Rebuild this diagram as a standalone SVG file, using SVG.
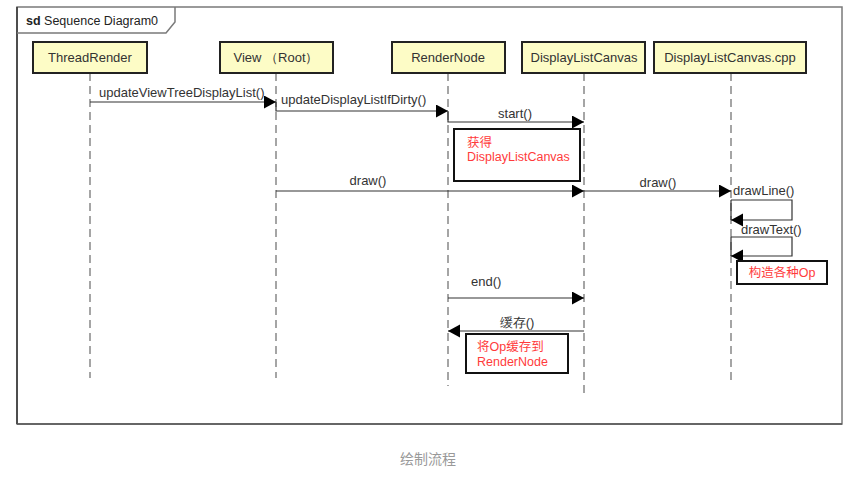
<svg xmlns="http://www.w3.org/2000/svg" width="853" height="482" viewBox="0 0 853 482">
<style>
.frame{fill:none;stroke:#7a7a7a;stroke-width:1.5}
.head{fill:#fdfcc6;stroke:#222;stroke-width:2}
.htxt{font-family:"Liberation Sans",Arial,sans-serif;font-size:13px;fill:#333;text-anchor:middle}
.life{stroke:#888;stroke-width:1.5;stroke-dasharray:8,5;fill:none}
.msg{stroke:#333;stroke-width:1.2;fill:none}
.mtxt{font-family:"Liberation Sans",Arial,sans-serif;font-size:13px;fill:#333}
.note{fill:#fff;stroke:#111;stroke-width:2}
.ntxt{font-family:"Liberation Sans","Noto Sans CJK SC",sans-serif;font-size:12.5px;fill:#ff3b3b}
.cap{font-family:"Liberation Sans","Noto Sans CJK SC",sans-serif;font-size:14px;fill:#999;text-anchor:middle}
</style>
<defs>
<marker id="arr" markerUnits="userSpaceOnUse" markerWidth="13" markerHeight="14" refX="12" refY="6.5" orient="auto">
<path d="M0,0 L12,6.5 L0,13 z" fill="#000"/>
</marker>
</defs>
<rect width="853" height="482" fill="#fff"/>
<g id="frame">
<rect class="frame" x="17" y="7" width="825" height="417"/>
<line x1="17" y1="7" x2="17" y2="424" stroke="#333" stroke-width="1.5"/>
<line x1="17" y1="424" x2="842" y2="424" stroke="#555" stroke-width="1.5"/>
<path class="frame" d="M17,33 H166 L175,22 V7"/>
<text x="26" y="25" font-family="'Liberation Sans',Arial,sans-serif" font-size="12.5" fill="#222"><tspan font-weight="bold">sd</tspan> Sequence Diagram0</text>
</g>
<g id="lifelines">
<line class="life" x1="90" y1="73" x2="90" y2="378"/>
<line class="life" x1="276" y1="73" x2="276" y2="378"/>
<line class="life" x1="448" y1="73" x2="448" y2="386"/>
<line class="life" x1="584" y1="73" x2="584" y2="393"/>
<line class="life" x1="731" y1="73" x2="731" y2="380"/>
</g>
<g id="n-threadrender"><rect class="head" x="33" y="42" width="114" height="31"/><text class="htxt" x="90" y="62">ThreadRender</text></g>
<g id="n-view"><rect class="head" x="220" y="42" width="113" height="31"/><text class="htxt" x="276" y="62">View （Root）</text></g>
<g id="n-rendernode"><rect class="head" x="392" y="42" width="113" height="31"/><text class="htxt" x="448" y="62">RenderNode</text></g>
<g id="n-dlc"><rect class="head" x="522" y="42" width="123" height="31"/><text class="htxt" x="584" y="62">DisplayListCanvas</text></g>
<g id="n-dlccpp"><rect class="head" x="654" y="42" width="152" height="31"/><text class="htxt" x="730" y="62">DisplayListCanvas.cpp</text></g>
<g id="connectors">
<path class="msg" d="M90,102 H276" marker-end="url(#arr)"/>
<text class="mtxt" x="99" y="97">updateViewTreeDisplayList()</text>
<path class="msg" d="M276,102 V111 H448" marker-end="url(#arr)"/>
<text class="mtxt" x="281" y="104">updateDisplayListIfDirty()</text>
<path class="msg" d="M448,111 V122 H584" marker-end="url(#arr)"/>
<text class="mtxt" x="515" y="118" text-anchor="middle">start()</text>
<path class="msg" d="M276,191 H584" marker-end="url(#arr)"/>
<text class="mtxt" x="368" y="185" text-anchor="middle">draw()</text>
<path class="msg" d="M584,191 H731" marker-end="url(#arr)"/>
<text class="mtxt" x="658" y="187" text-anchor="middle">draw()</text>
<text class="mtxt" x="733" y="195">drawLine()</text>
<line class="msg" x1="731" y1="200" x2="731" y2="220"/>
<path class="msg" d="M731,200 H792 V220 H731" marker-end="url(#arr)"/>
<text class="mtxt" x="741" y="234">drawText()</text>
<line class="msg" x1="731" y1="237" x2="731" y2="256"/>
<path class="msg" d="M731,237 H792 V256 H731" marker-end="url(#arr)"/>
<path class="msg" d="M448,298 H584" marker-end="url(#arr)"/>
<text class="mtxt" x="471" y="286">end()</text>
<path class="msg" d="M584,331 H448" marker-end="url(#arr)"/>
<text class="mtxt" x="517" y="327" text-anchor="middle" font-family="'Liberation Sans','Noto Sans CJK SC',sans-serif">缓存()</text>
</g>
<g id="note-get">
<rect class="note" x="454" y="129" width="126" height="52"/>
<text class="ntxt" x="467" y="147">获得</text>
<text class="ntxt" x="467" y="161">DisplayListCanvas</text>
</g>
<g id="note-ops">
<rect class="note" x="737" y="261" width="90" height="23"/>
<text class="ntxt" x="782" y="277" text-anchor="middle">构造各种Op</text>
</g>
<g id="note-cache">
<rect class="note" x="466" y="334" width="102" height="39"/>
<text class="ntxt" x="477" y="351">将Op缓存到</text>
<text class="ntxt" x="477" y="366">RenderNode</text>
</g>
<text class="cap" x="428" y="464">绘制流程</text>
</svg>
